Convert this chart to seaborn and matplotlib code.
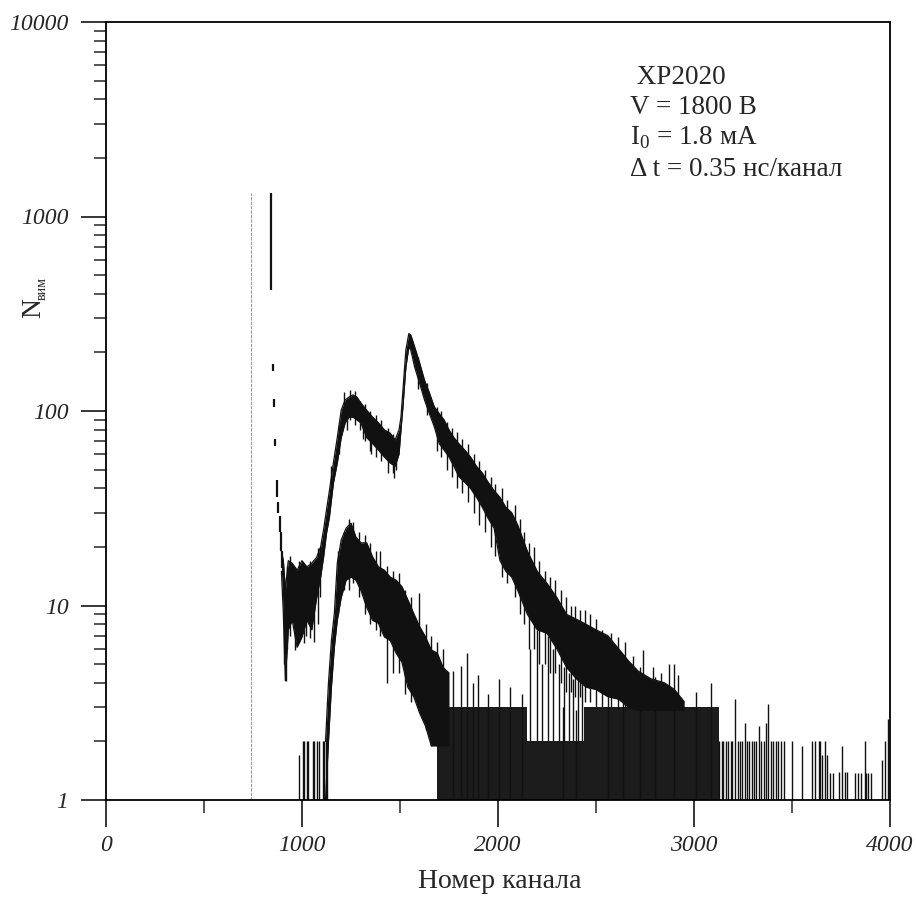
import numpy as np
import pandas as pd
import matplotlib
matplotlib.use("Agg")
import matplotlib.pyplot as plt
import seaborn as sns
from matplotlib.ticker import FixedLocator, NullFormatter

sns.set_style("ticks")
plt.rcParams['font.family'] = ['Liberation Serif', 'DejaVu Serif']
plt.rcParams['mathtext.fontset'] = 'custom'
plt.rcParams['mathtext.rm'] = 'Liberation Serif'

# --- data ---
# upper spectrum (main band): channel, lower / upper envelope of the noisy trace
A_ch = [895, 905, 915, 930, 950, 975, 1000, 1025, 1050, 1075, 1095, 1110, 1125, 1140,
        1160, 1180, 1200, 1220, 1240, 1260, 1280, 1300, 1330, 1360, 1390, 1420, 1450,
        1475, 1495, 1505, 1515, 1530, 1545, 1555, 1575, 1600, 1625, 1650, 1675, 1700,
        1725, 1750, 1775, 1800, 1830, 1860, 1890, 1920, 1950, 1980, 2010, 2040, 2070,
        2100, 2150, 2200, 2250, 2300, 2350, 2400, 2450, 2500, 2560, 2615, 2665, 2715,
        2780, 2850, 2900, 2950]
A_hi = [19, 17, 12, 17, 16.5, 15.2, 17, 15.8, 16.5, 17.7, 20, 24.5, 31, 39,
        54, 73, 101, 114, 118, 121, 118, 110, 101, 93, 87, 80, 77,
        71, 80, 93, 128, 206, 250, 246, 213, 177, 144, 124, 105, 97,
        90, 80, 73, 68, 63, 58, 52, 48, 43, 39, 36, 32, 30,
        26, 19, 15, 13, 11, 9, 8.5, 8, 7.5, 7, 6, 5.2, 4.6,
        4.2, 4, 3.7, 3.2]
A_lo = [15, 9, 4.1, 7.5, 8.4, 6.1, 6.9, 8.4, 7.5, 11, 14, 17.7, 23.5, 28.5,
        42.5, 54, 73, 87, 93, 93, 90, 87, 73, 68, 63, 58, 54,
        52, 60, 80, 105, 168, 213, 206, 168, 139, 114, 97, 83, 68,
        63, 58, 52, 46, 43, 40, 36, 32, 28, 25, 17, 15, 14,
        12, 9, 7.5, 7.2, 6, 4.8, 4.2, 3.8, 3.7, 3.4, 3.3, 3, 2.9,
        2.9, 2.9, 2.9, 2.9]

# lower spectrum band
B_ch = [1120, 1135, 1150, 1165, 1180, 1200, 1225, 1250, 1275, 1300, 1330, 1360, 1390,
        1420, 1450, 1480, 1510, 1540, 1570, 1600, 1630, 1660, 1690, 1720, 1750]
B_hi = [2, 4, 6.6, 9.1, 16.5, 21.7, 25, 26.5, 22.5, 21, 21, 17.8, 15.8,
        15.2, 14, 13.5, 12.5, 10.7, 9.1, 7.8, 6.9, 5.9, 5.7, 4.8, 4.5]
B_lo = [1, 2, 3.8, 6.1, 8.4, 11, 13.5, 14, 13.5, 12, 9.8, 8.4, 8.1,
        6.9, 6.6, 5.7, 5.1, 3.8, 3.4, 2.8, 2.4, 1.9, 1.9, 1.9, 1.9]

# steep fall of the prompt peak (broken pieces)
E_ch = [844, 852, 859, 864, 872, 878, 886, 894, 900]
E_lo = [420, 160, 105, 66, 36, 30, 24, 19, 15.5]
E_hi = [1320, 175, 115, 72, 44, 34, 29, 24, 19]

# faint grey line
G_ch = [740]
G_top = [1320]

# dense noise floor blocks (channels start / end, count level)
F_start = [1690, 2150, 2440, 2950]
F_end = [2150, 2440, 2950, 3125]
F_level = [3, 2, 3, 3]

# single count spikes standing on the floor
S_ch = [983, 1003, 1009, 1028, 1033, 1054, 1059, 1079, 1085, 1105, 1110, 1120, 1130,
        1768, 1811, 1841, 1870, 1896, 1947, 2005, 2060, 2120, 2330, 2398,
        2560, 2640, 2725, 2800, 2900, 3010, 3085,
        3130, 3142, 3150, 3163, 3175, 3188, 3196, 3210, 3222, 3235, 3243, 3258, 3270, 3281,
        3295, 3308, 3316, 3330, 3342, 3355, 3368, 3380, 3392, 3405, 3418, 3430, 3445, 3458,
        3500, 3550, 3601, 3618, 3637, 3645, 3655, 3668, 3680, 3695, 3710, 3740, 3755, 3770,
        3780, 3820, 3835, 3850, 3870, 3880, 3890, 3905, 3960, 3975, 3988]
S_top = [1.7, 2, 2, 2, 2, 2, 2, 2, 2, 2, 2, 2, 2,
         4.6, 4.9, 5.7, 4.0, 4.4, 3.5, 4.2, 3.8, 3.5, 3.0, 2.9,
         4.5, 5.5, 4.8, 4.3, 5.0, 3.6, 4.0,
         2, 2, 2, 2, 2, 2, 2, 3.3, 2, 2, 2, 2.5, 2, 2,
         2, 2, 2, 2.4, 2, 2, 2.5, 3.1, 2, 2, 2, 2, 2, 2,
         2, 1.9, 2, 2, 2, 2, 1.7, 2, 1.7, 1.38, 1.38, 1.4, 1.9, 1.4,
         1.4, 1.38, 1.38, 1.38, 2, 1.38, 1.38, 1.38, 1.6, 2.0, 2.6]

# noise strokes poking out of the bands
K_ch = [910, 916, 925, 940, 963, 985, 1009, 1020, 1040, 1060, 1080, 1090,
        1150, 1190, 1215, 1230, 1245, 1270, 1295, 1310, 1320, 1345, 1350, 1375, 1405,
        1440, 1462, 1470, 1480,
        1590, 1640, 1690, 1710, 1740, 1765, 1790, 1815, 1845, 1875, 1905, 1935, 1965,
        1985, 2020, 2045, 2085, 2110, 2135, 2160, 2185, 2210, 2240, 2265, 2290, 2320,
        2345, 2370, 2395, 2420, 2445, 2470, 2500, 2530, 2575, 2610, 2650, 2690, 2740,
        2790, 2830, 2870, 2920,
        2165, 2200, 2225, 2255, 2280, 2310, 2335, 2360, 2385, 2410, 2430,
        1185, 1215, 1240, 1262, 1290, 1320, 1345, 1375, 1400, 1432, 1465, 1495, 1525,
        1555, 1597, 1632, 1660, 1690, 1720]
K_lo = [5, 4.1, 6, 7, 5.9, 6.5, 6.4, 7, 6.8, 6.5, 8, 11,
        40, 60, 85, 80, 90, 85, 80, 72, 70, 62, 60, 58, 55,
        48, 48, 45, 50,
        130, 95, 62, 58, 50, 46, 40, 38, 34, 30, 26, 24, 20,
        18, 14, 13, 11, 9, 8, 6, 6, 5, 5, 4.5, 4.5, 4,
        3.6, 3.6, 3.4, 3.4, 3.2, 3.2, 3, 3, 3, 2.9, 2.9, 2.9, 2.9,
        2.9, 2.9, 2.9, 2.9,
        2, 2, 2, 2, 2, 2, 2, 2, 2, 2, 2,
        9, 12, 12, 13, 11, 9, 8, 7.5, 7, 4, 4.5, 4.5, 3.5,
        3.2, 2.9, 2.3, 1.9, 1.9, 1.9]
K_hi = [14, 11, 16, 18, 13.5, 17, 12.5, 16, 17, 14, 19.7, 20,
        52, 85, 125, 100, 128, 126, 112, 90, 108, 100, 75, 95, 90,
        82, 76, 58, 68,
        190, 140, 105, 100, 88, 82, 78, 72, 68, 60, 55, 50, 46,
        42, 40, 35, 33, 28, 24, 21, 20, 17, 15, 14, 13.5, 12,
        11, 10, 10, 9.5, 9.5, 9, 8.5, 7.5, 7.2, 6.9, 6.5, 5.5, 5.9,
        4.8, 4.5, 5.0, 4.4,
        6, 7.5, 5, 7, 6, 5, 4.8, 4.5, 4.2, 4.2, 4,
        19, 24, 28, 27, 24, 23, 21, 19, 19, 16, 15, 14.7, 12,
        11, 11.6, 8, 7, 6.5, 6]

x_ticks = [0, 1000, 2000, 3000, 4000]
x_minor = [500, 1500, 2500, 3500]
y_ticks = [1, 10, 100, 1000, 10000]
y_ticklabels = ['1', '10', '100', '1000', '10000']

ink = '#111111'

fig = plt.figure(figsize=(9.16, 8.98), dpi=100)
ax = fig.add_axes([106 / 916, 98 / 898, 784 / 916, 778 / 898])
ax.set_yscale('log')

# floor blocks
for s, e, lv in zip(F_start, F_end, F_level):
    ax.fill_between([s, e], [1, 1], [lv, lv], color='#1c1c1c', lw=0)

# single spikes
ax.vlines(S_ch, 1, S_top, color=ink, lw=1.0)

# bands
ax.fill_between(A_ch, A_lo, A_hi, color=ink, lw=0)
ax.fill_between(B_ch, B_lo, B_hi, color=ink, lw=0)
edges = pd.DataFrame({'ch': A_ch + A_ch + B_ch + B_ch,
                      'val': A_lo + A_hi + B_lo + B_hi,
                      'part': ['Alo'] * len(A_ch) + ['Ahi'] * len(A_ch)
                              + ['Blo'] * len(B_ch) + ['Bhi'] * len(B_ch)})
sns.lineplot(data=edges, x='ch', y='val', units='part', estimator=None,
             color=ink, lw=0.9, ax=ax)
ax.vlines(K_ch, K_lo, K_hi, color=ink, lw=1.0)

# prompt peak
ax.vlines(E_ch, E_lo, E_hi, color=ink, lw=1.6)
ax.vlines(G_ch, 1, G_top, color='#9a9a9a', lw=0.8, linestyles=(0, (3, 1)))

ax.set_xlim(0, 4000)
ax.set_ylim(1, 10000)

ax.xaxis.set_major_locator(FixedLocator(x_ticks))
ax.xaxis.set_minor_locator(FixedLocator(x_minor))
ax.yaxis.set_major_locator(FixedLocator(y_ticks))
ax.yaxis.set_minor_locator(FixedLocator(
    [m * 10 ** d for d in range(4) for m in range(2, 10)]))
ax.yaxis.set_minor_formatter(NullFormatter())
ax.set_xticklabels([str(t) for t in x_ticks], fontsize=17, style='italic')
ax.set_yticklabels(y_ticklabels, fontsize=17, style='italic')

ax.tick_params(axis='both', which='major', direction='out', width=1.1, color='k')
ax.tick_params(axis='x', which='major', length=19.5, pad=6)
ax.tick_params(axis='x', which='minor', length=9.4, width=1.1, direction='out')
ax.tick_params(axis='y', which='major', length=18, pad=9)
ax.tick_params(axis='y', which='minor', length=8.6, width=1.1, direction='out')

for sp in ax.spines.values():
    sp.set_visible(True)
    sp.set_linewidth(1.3)
    sp.set_color('k')

ax.set_xlabel('')
ax.set_ylabel('')
fig.text(500 / 916, 1 - 882 / 898, 'Номер канала', ha='center', va='center', fontsize=20)

# y label N with subscript
fig.text(34 / 916, 1 - 308 / 898, 'N', rotation=90, ha='center', va='center', fontsize=20)
fig.text(42 / 916, 1 - 288 / 898, 'вим', rotation=90, ha='center', va='center', fontsize=10)

# annotation block
tx = 630 / 916
fig.text(tx, 1 - 78 / 898, ' XP2020', ha='left', va='center', fontsize=19.5)
fig.text(tx, 1 - 108 / 898, 'V = 1800 B', ha='left', va='center', fontsize=19.5)
fig.text(tx, 1 - 138 / 898, r'I$_\mathrm{0}$ = 1.8 мА', ha='left', va='center', fontsize=19.5)
fig.text(tx, 1 - 169 / 898, 'Δ t = 0.35 нс/канал', ha='left', va='center', fontsize=19.5)

fig.savefig('out.png', dpi=100)
